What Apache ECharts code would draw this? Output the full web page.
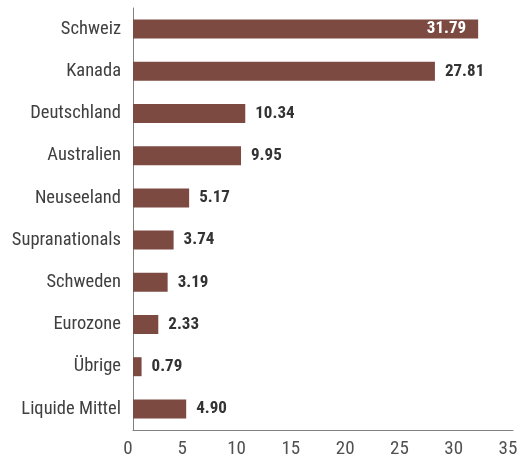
<!DOCTYPE html>
<html>
<head>
<meta charset="utf-8">
<script src="https://cdn.jsdelivr.net/npm/echarts@6/dist/echarts.min.js"></script>
<style>
  html, body { margin: 0; padding: 0; background: #fff; }
  #chart { width: 523px; height: 460px; }
</style>
</head>
<body>
<div id="chart"></div>
<script>
const categories = ['Schweiz', 'Kanada', 'Deutschland', 'Australien', 'Neuseeland',
    'Supranationals', 'Schweden', 'Eurozone', 'Übrige', 'Liquide Mittel'];
const values = [31.79, 27.81, 10.34, 9.95, 5.17, 3.74, 3.19, 2.33, 0.79, 4.90];
const xTicks = [0, 5, 10, 15, 20, 25, 30, 35];

const barColor = '#7d4a42';
const font = '"Roboto Condensed", "DejaVu Sans Condensed", sans-serif';

const chart = echarts.init(document.getElementById('chart'));

const option = {
    animation: false,
    grid: {
        left: 133,
        right: 10,
        top: 8,
        bottom: 30,
        containLabel: false
    },
    xAxis: {
        type: 'value',
        min: xTicks[0],
        max: xTicks[xTicks.length - 1],
        interval: 5,
        axisLine: { show: true, lineStyle: { color: '#808080', width: 1 } },
        axisTick: { show: false },
        splitLine: { show: false },
        axisLabel: {
            margin: 10,
            fontFamily: font,
            fontSize: 19,
            color: '#505050',
            padding: [0, 10, 0, 0]
        }
    },
    yAxis: {
        type: 'category',
        inverse: true,
        data: categories,
        axisLine: { show: true, lineStyle: { color: '#808080', width: 1 } },
        axisTick: { show: false },
        axisLabel: {
            margin: 12,
            fontFamily: font,
            fontSize: 18.5,
            color: '#404040'
        }
    },
    series: [{
        type: 'bar',
        barWidth: 19,
        data: values.map((v, i) => ({
            value: v,
            label: i === 0
                ? { position: 'insideRight', color: '#ffffff', distance: 12 }
                : { position: 'right', color: '#333333', distance: 10 }
        })),
        itemStyle: { color: barColor },
        label: {
            show: true,
            fontFamily: font,
            fontSize: 17,
            fontWeight: 'bold',
            formatter: p => p.value.toFixed(2)
        }
    }]
};

chart.setOption(option);
</script>
</body>
</html>
